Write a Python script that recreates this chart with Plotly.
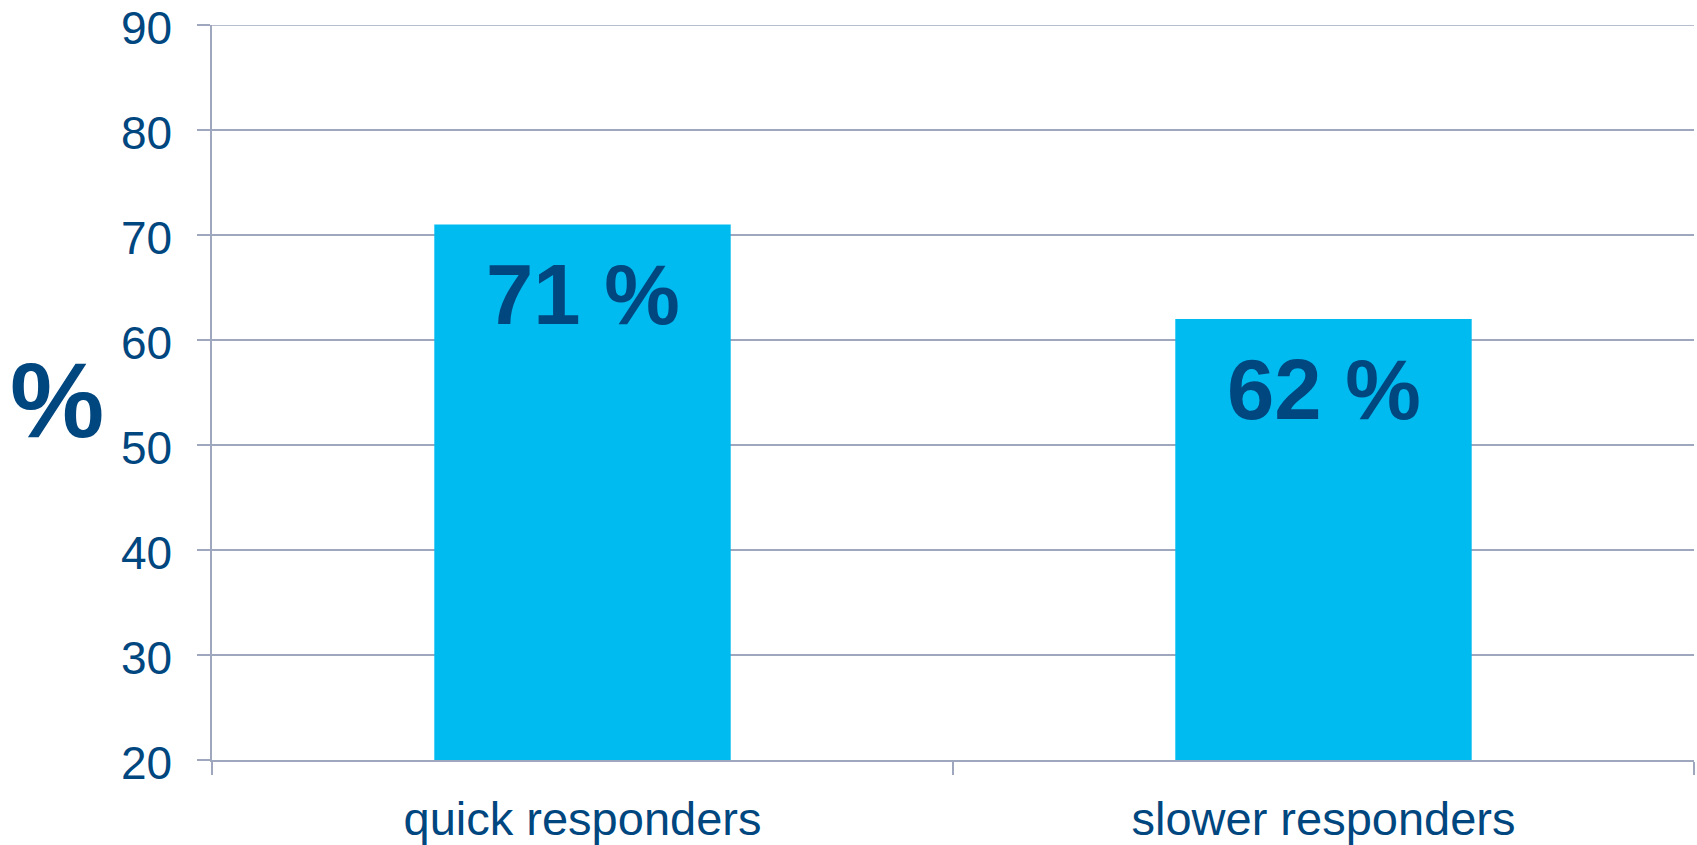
import plotly.graph_objects as go

categories = ["quick responders", "slower responders"]
values = [71, 62]
bar_labels = ["71 %", "62 %"]
y_ticks = [20, 30, 40, 50, 60, 70, 80, 90]

TEXT = "#00467F"
BAR = "#00BBF0"
GRID = "#9EA7BE"
FONT = "Liberation Sans, Arial, sans-serif"

fig = go.Figure()
fig.add_trace(go.Bar(x=categories, y=values, marker=dict(color=BAR, line=dict(width=0)),
                     hoverinfo="skip"))

for c, v, t in zip(categories, values, bar_labels):
    fig.add_annotation(x=c, y=v, text=f"<b>{t}</b>", showarrow=False, yanchor="middle",
                       yshift=-70, font=dict(family=FONT, size=85, color=TEXT))

fig.add_annotation(xref="paper", yref="paper", x=-0.1046, y=0.49, text="<b>%</b>",
                   showarrow=False, xanchor="center", yanchor="middle",
                   font=dict(family=FONT, size=106, color=TEXT))

# top gridline (plotly drops the gridline lying exactly on the plot edge)
fig.add_shape(type="line", xref="paper", yref="y", x0=0, x1=1, y0=max(y_ticks), y1=max(y_ticks),
              line=dict(color=GRID, width=1.5), layer="below")

fig.update_layout(
    width=1697, height=845,
    margin=dict(l=212, r=3, t=25, b=85, autoexpand=False),
    paper_bgcolor="white", plot_bgcolor="white",
    bargap=0.6, showlegend=False,
    font=dict(family=FONT, color=TEXT),
)
fig.update_yaxes(range=[20, 90], tickvals=y_ticks, ticks="outside", ticklen=13, tickwidth=1.5,
                 tickcolor=GRID, showgrid=True, gridcolor=GRID, gridwidth=1.5,
                 showline=True, linecolor=GRID, linewidth=1.5, zeroline=False,
                 tickfont=dict(family=FONT, size=46, color=TEXT), ticklabelstandoff=16,
                 ticklabelshift=3,
                 ticklabeloverflow="allow", automargin=False, fixedrange=True)
fig.update_xaxes(type="category", tickson="boundaries", ticks="outside", ticklen=13, tickwidth=1.5,
                 tickcolor=GRID, showgrid=False, showline=True, linecolor=GRID, linewidth=1.5,
                 tickfont=dict(family=FONT, size=47, color=TEXT), ticklabelstandoff=17,
                 ticklabeloverflow="allow", automargin=False, fixedrange=True)

fig.write_html("out.html", config={"displayModeBar": False},
               post_script="document.body.style.margin='0';")
